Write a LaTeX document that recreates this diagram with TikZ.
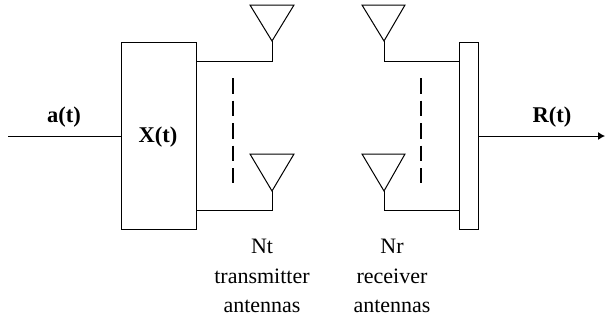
\documentclass[tikz,border=0pt]{standalone}
\usepackage{fontspec}
\setmainfont{Liberation Serif}
\usetikzlibrary{arrows.meta}
\tikzset{
  block/.style={draw, line width=1pt, inner sep=0pt},
  wire/.style={line width=1pt},
  antenna/.style={line width=1pt, line join=miter},
  sep/.style={line width=2pt, dash pattern=on 15.5pt off 7pt},
  tag/.style={font=\fontsize{22.5}{22.5}\selectfont\bfseries},
  caption/.style={align=center, font=\fontsize{22}{29.5}\selectfont}
}
\begin{document}
\begin{tikzpicture}[x=1pt,y=-1pt]
  \useasboundingbox (0,0) rectangle (605,322);
  \node[block, minimum width=74.5pt, minimum height=187pt] (tx) at (158.75,135.5) {};
  \node[block, minimum width=19pt, minimum height=187pt] (rx) at (468.5,135.5) {};
  % antennas
  \draw[antenna] (250,5) -- (294,5) -- (272,41) coordinate (ttop) -- cycle;
  \draw[antenna] (250,154) -- (294,154) -- (272,191) coordinate (tbot) -- cycle;
  \draw[antenna] (362,5) -- (405,5) -- (384,41) coordinate (rtop) -- cycle;
  \draw[antenna] (362,154) -- (405,154) -- (384,191) coordinate (rbot) -- cycle;
  % connections
  \coordinate (in) at (8,136);
  \coordinate (out) at (605,136);
  \draw[wire] (in) -- (tx.west |- in);
  \draw[wire, -{Latex[length=7pt,width=8pt]}] (rx.east |- out) -- (out);
  \draw[wire] (ttop) -- (272,61) -- (tx.east |- 0,61);
  \draw[wire] (tbot) -- (272,210) -- (tx.east |- 0,210);
  \draw[wire] (rtop) -- (384,61) -- (rx.west |- 0,61);
  \draw[wire] (rbot) -- (384,210) -- (rx.west |- 0,210);
  \coordinate (ta) at (233,78);
  \coordinate (tb) at (233,183);
  \coordinate (ra) at (421,78);
  \coordinate (rb) at (421,183);
  \draw[sep] (ta) -- (tb);
  \draw[sep] (ra) -- (rb);
  % labels
  \node[tag] (xtag) at (158,137) {X(t)};
  \node[tag] (atag) at (64,117) {a(t)};
  \node[tag] (rtag) at (552,117) {R(t)};
  \node[caption] (tcap) at (262,276) {Nt\\transmitter\\antennas};
  \node[caption] (rcap) at (392,276) {Nr\\receiver\\antennas};
\end{tikzpicture}
\end{document}
